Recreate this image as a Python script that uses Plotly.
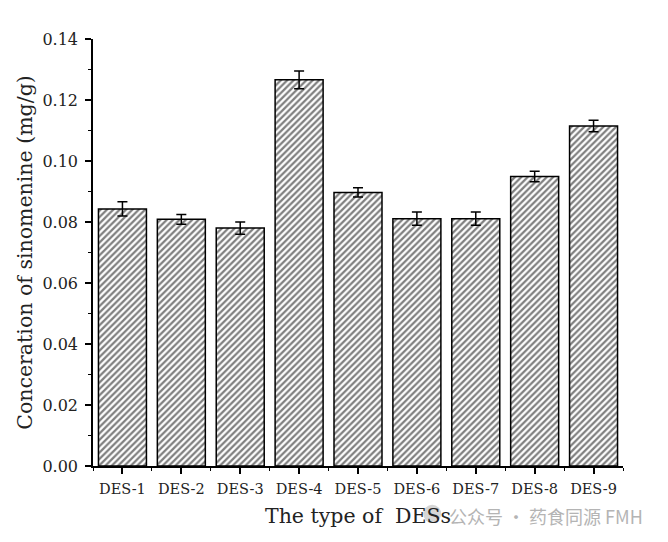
import plotly.graph_objects as go

categories = ["DES-1", "DES-2", "DES-3", "DES-4", "DES-5", "DES-6", "DES-7", "DES-8", "DES-9"]
values = [0.0843, 0.0809, 0.0780, 0.1266, 0.0897, 0.0811, 0.0811, 0.0949, 0.1115]
errors = [0.0023, 0.0016, 0.0020, 0.0029, 0.0015, 0.0022, 0.0022, 0.0017, 0.0019]
y_ticks = [0.00, 0.02, 0.04, 0.06, 0.08, 0.10, 0.12, 0.14]

positions = list(range(len(categories)))
font_family = "DejaVu Serif, Liberation Serif, serif"
text_color = "#222222"

fig = go.Figure()
fig.add_trace(go.Bar(
    x=positions, y=values, width=0.815,
    marker=dict(color="white", line=dict(color="black", width=1.5),
                pattern=dict(shape="/", fgcolor="black", bgcolor="white", size=4.5, solidity=0.5)),
    error_y=dict(type="data", array=errors, visible=True, color="black", thickness=1.5, width=5),
    showlegend=False,
))

fig.update_layout(
    width=652, height=530,
    margin=dict(l=85, r=37, t=31, b=72),
    plot_bgcolor="white", paper_bgcolor="white",
    font=dict(family=font_family, color=text_color),
    xaxis=dict(
        range=[-0.5, 8.5], tickvals=positions, ticktext=categories,
        showline=True, linecolor="black", linewidth=1.5, showgrid=False, zeroline=False,
        ticks="outside", ticklen=6, tickwidth=1.5, tickcolor="black", ticklabelstandoff=3,
        tickfont=dict(size=14.5, family=font_family, color=text_color),
        minor=dict(tickvals=[p - 0.5 for p in positions] + [positions[-1] + 0.5],
                   ticks="outside", ticklen=3, tickwidth=1.2, tickcolor="black", showgrid=False),
        title=dict(text="The type of  DESs", font=dict(size=20.5, family=font_family, color=text_color), standoff=12),
    ),
    yaxis=dict(
        range=[0, 0.14], tickvals=y_ticks, tickformat=".2f",
        showline=True, linecolor="black", linewidth=1.5, showgrid=False, zeroline=False,
        ticks="outside", ticklen=6, tickwidth=1.5, tickcolor="black", ticklabelstandoff=4,
        tickfont=dict(size=16, family=font_family, color=text_color),
        minor=dict(dtick=0.01, ticks="outside", ticklen=3, tickwidth=1.2, tickcolor="black", showgrid=False),
        title=dict(text="Conceration of sinomenine (mg/g)", font=dict(size=20.5, family=font_family, color=text_color), standoff=4),
    ),
)

# watermark
fig.add_shape(type="circle", xref="paper", yref="paper",
              x0=0.623, x1=0.657, y0=-0.133, y1=-0.091,
              fillcolor="#c4c4c4", line=dict(width=0), opacity=0.7, layer="above")
fig.add_annotation(
    x=1.0415, y=-0.117, xref="paper", yref="paper", xanchor="right", yanchor="middle",
    text="公众号 · 药食同源 FMH", showarrow=False,
    font=dict(size=18, color="#b4b4b4", family="Noto Sans CJK SC"),
)

fig.write_html("out.html")
